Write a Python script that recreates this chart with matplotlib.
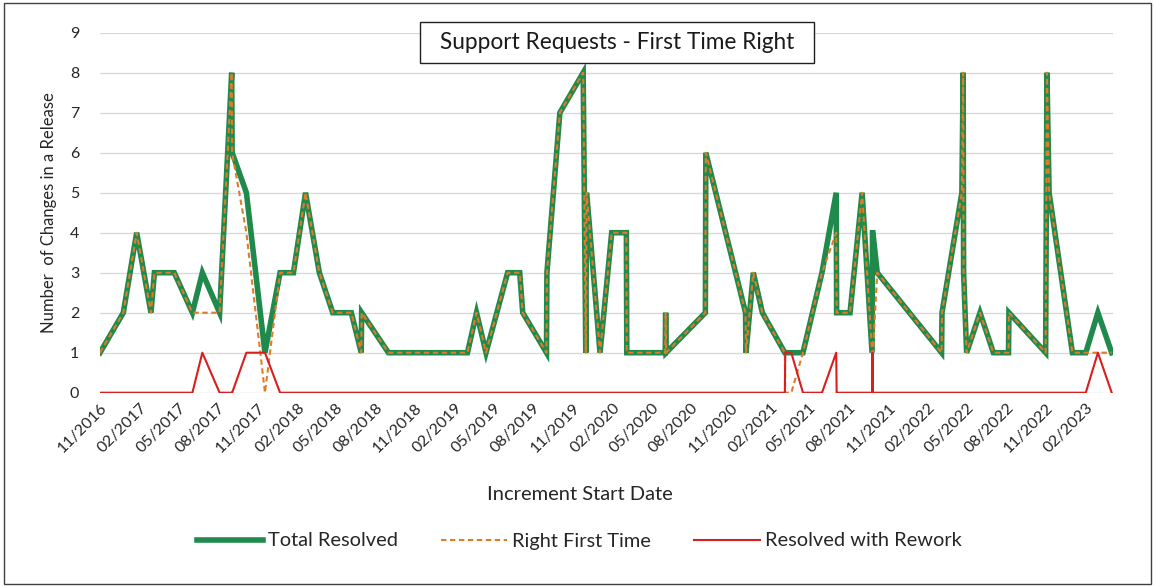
import matplotlib
matplotlib.use("Agg")
import matplotlib.pyplot as plt
import matplotlib.dates as mdates
from matplotlib.patches import Rectangle
from matplotlib.lines import Line2D
import pandas as pd

plt.rcParams['font.family'] = ['Lato', 'DejaVu Sans']

dates = [
    "2016-11-01", "2016-12-25", "2017-01-25", "2017-02-27", "2017-03-07", "2017-04-22",
    "2017-06-03", "2017-06-26", "2017-08-05", "2017-09-02", "2017-09-03", "2017-10-06",
    "2017-11-18", "2017-12-23", "2018-01-23", "2018-02-20", "2018-03-24", "2018-04-24",
    "2018-06-06", "2018-06-29", "2018-06-30", "2018-08-31", "2019-03-02", "2019-03-23",
    "2019-04-14", "2019-06-03", "2019-07-01", "2019-07-08", "2019-09-01", "2019-09-02",
    "2019-10-02", "2019-11-25", "2019-12-01", "2019-12-03", "2020-01-03", "2020-01-30",
    "2020-03-04", "2020-03-05", "2020-06-02", "2020-06-03", "2020-06-04", "2020-09-03",
    "2020-09-04", "2020-12-05", "2020-12-06", "2020-12-23", "2021-01-13", "2021-03-06",
    "2021-03-07", "2021-03-21", "2021-04-17", "2021-05-31", "2021-07-03", "2021-07-04",
    "2021-08-04", "2021-09-01", "2021-09-24", "2021-09-25", "2021-09-26", "2021-10-06",
    "2022-03-04", "2022-03-05", "2022-04-20", "2022-04-23", "2022-04-24", "2022-05-01",
    "2022-06-01", "2022-07-02", "2022-08-06", "2022-08-07", "2022-10-31", "2022-11-03",
    "2022-11-08", "2023-01-01", "2023-02-01", "2023-03-01", "2023-04-02",
]
total_resolved = [
    1, 2, 4, 2, 3, 3,
    2, 3, 2, 8, 6, 5,
    1, 3, 3, 5, 3, 2,
    2, 1, 2, 1, 1, 2,
    1, 3, 3, 2, 1, 3,
    7, 8, 1, 5, 1, 4,
    4, 1, 1, 2, 1, 2,
    6, 2, 1, 3, 2, 1,
    1, 1, 1, 3, 5, 2,
    2, 5, 1, 4, 4, 3,
    1, 2, 5, 8, 3, 1,
    2, 1, 1, 2, 1, 8,
    5, 1, 1, 2, 1,
]
right_first_time = [
    1, 2, 4, 2, 3, 3,
    2, 2, 2, 8, 6, 4,
    0, 3, 3, 5, 3, 2,
    2, 1, 2, 1, 1, 2,
    1, 3, 3, 2, 1, 3,
    7, 8, 1, 5, 1, 4,
    4, 1, 1, 2, 1, 2,
    6, 2, 1, 3, 2, 1,
    0, 0, 1, 3, 4, 2,
    2, 5, 1, 1, 1, 3,
    1, 2, 5, 8, 3, 1,
    2, 1, 1, 2, 1, 8,
    5, 1, 1, 1, 1,
]
resolved_with_rework = [
    0, 0, 0, 0, 0, 0,
    0, 1, 0, 0, 0, 1,
    1, 0, 0, 0, 0, 0,
    0, 0, 0, 0, 0, 0,
    0, 0, 0, 0, 0, 0,
    0, 0, 0, 0, 0, 0,
    0, 0, 0, 0, 0, 0,
    0, 0, 0, 0, 0, 0,
    1, 1, 0, 0, 1, 0,
    0, 0, 0, 1, 0, 0,
    0, 0, 0, 0, 0, 0,
    0, 0, 0, 0, 0, 0,
    0, 0, 0, 1, 0,
]
x_start, x_end = "2016-11-01", "2023-04-05"
title = "Support Requests - First Time Right"

W, H = 1154, 586
fig = plt.figure(figsize=(W / 100, H / 100), dpi=100)
fig.patches.append(Rectangle((4 / W, 2 / H), (W - 7) / W, (H - 5) / H, transform=fig.transFigure,
                             fill=False, edgecolor='#404040', lw=1.0, zorder=0))

ax = fig.add_axes([100 / W, (H - 392.7) / H, 1013 / W, 360 / H])
x = pd.to_datetime(dates)

GREEN = '#1F8A4C'
ORANGE = '#E07B2A'
RED = '#D91E1E'
DASH = (0, (2.6, 1.7))

ax.plot(x, total_resolved, color=GREEN, lw=4.0, solid_joinstyle='miter', zorder=3)
ax.plot(x, right_first_time, color=ORANGE, lw=1.5, ls=DASH, zorder=4)
ax.plot(x, resolved_with_rework, color=RED, lw=1.5, zorder=5)

ax.set_xlim(pd.Timestamp(x_start), pd.Timestamp(x_end))
ax.set_ylim(0, 9)
ax.set_yticks(range(0, 10))
ax.grid(axis='y', color='#D9D9D9', lw=1.0, zorder=0)
ax.set_axisbelow(True)
for s in ax.spines.values():
    s.set_visible(False)

ax.xaxis.set_major_locator(mdates.MonthLocator(bymonth=[2, 5, 8, 11]))
ax.xaxis.set_major_formatter(mdates.DateFormatter('%m/%Y'))
ax.tick_params(axis='both', length=0, labelsize=11.5, colors='#262626')
ax.tick_params(axis='y', pad=15)
ax.tick_params(axis='x', pad=6)
for lab in ax.get_xticklabels():
    lab.set_rotation(45)
    lab.set_ha('right')
    lab.set_va('top')
    lab.set_rotation_mode('anchor')

ax.set_ylabel("Number  of Changes in a Release", fontsize=12, color='#262626', labelpad=9)
fig.text(580 / W, 1 - 495 / H, "Increment Start Date", fontsize=14.5, color='#262626',
         ha='center', va='center')

# title box
fig.patches.append(Rectangle((420 / W, 1 - 63 / H), 394 / W, 41 / H, transform=fig.transFigure,
                             facecolor='white', edgecolor='#202020', lw=1.0, zorder=10))
fig.text(617 / W, 1 - 42.5 / H, title, fontsize=16.3, color='#1a1a1a', ha='center', va='center',
         zorder=11)

handles = [
    Line2D([], [], color=GREEN, lw=4.0),
    Line2D([], [], color=ORANGE, lw=1.5, ls=DASH),
    Line2D([], [], color=RED, lw=1.5),
]
labels = ["Total Resolved", "Right First Time", "Resolved with Rework"]
fig.legend(handles, labels, loc='center', bbox_to_anchor=(579 / W, 1 - 541 / H), ncol=3,
           frameon=False, fontsize=14.4, handlelength=3.3, handletextpad=0.25, columnspacing=2.15,
           labelcolor='#262626')

fig.savefig("out.png", dpi=100)
